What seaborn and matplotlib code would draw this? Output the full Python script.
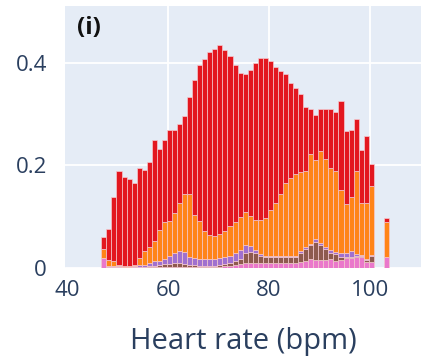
import numpy as np
import pandas as pd
import matplotlib
matplotlib.use("Agg")
import matplotlib.pyplot as plt
import seaborn as sns

# ---- data (bin start, bpm) ----
heart_rate = [47, 48, 49, 50, 51, 52, 53, 54, 55, 56, 57, 58, 59, 60, 61, 62, 63, 64, 65, 66,
              67, 68, 69, 70, 71, 72, 73, 74, 75, 76, 77, 78, 79, 80, 81, 82, 83, 84, 85, 86,
              87, 88, 89, 90, 91, 92, 93, 94, 95, 96, 97, 98, 99, 100, 103]

# cumulative tops
pink_top = [0.020, 0.002, 0.001, 0.001, 0.001, 0.001, 0.001, 0.001, 0.001, 0.001, 0.001, 0.001, 0.001, 0.001, 0.002, 0.002, 0.002, 0.002, 0.002, 0.002,
            0.002, 0.002, 0.002, 0.002, 0.003, 0.004, 0.005, 0.008, 0.010, 0.010, 0.010, 0.009, 0.009, 0.009, 0.009, 0.009, 0.009, 0.009, 0.010, 0.012,
            0.014, 0.017, 0.016, 0.016, 0.015, 0.018, 0.014, 0.015, 0.020, 0.020, 0.022, 0.022, 0.012, 0.012, 0.021]
brown_top = [0.020, 0.002, 0.002, 0.001, 0.001, 0.001, 0.001, 0.002, 0.002, 0.003, 0.004, 0.005, 0.008, 0.008, 0.010, 0.010, 0.008, 0.006, 0.005, 0.004,
             0.004, 0.004, 0.004, 0.005, 0.007, 0.010, 0.013, 0.018, 0.030, 0.032, 0.030, 0.024, 0.022, 0.021, 0.021, 0.022, 0.021, 0.022, 0.022, 0.030,
             0.038, 0.044, 0.050, 0.045, 0.038, 0.030, 0.028, 0.022, 0.022, 0.022, 0.023, 0.023, 0.016, 0.024, 0.021]
purple_top = [0.020, 0.004, 0.004, 0.003, 0.002, 0.002, 0.003, 0.005, 0.006, 0.009, 0.013, 0.014, 0.018, 0.024, 0.030, 0.033, 0.031, 0.022, 0.020, 0.018,
              0.018, 0.018, 0.018, 0.019, 0.021, 0.024, 0.030, 0.036, 0.045, 0.042, 0.035, 0.027, 0.024, 0.023, 0.023, 0.024, 0.023, 0.024, 0.024, 0.033,
              0.041, 0.047, 0.056, 0.048, 0.041, 0.036, 0.032, 0.030, 0.030, 0.034, 0.028, 0.025, 0.018, 0.026, 0.021]
orange_top = [0.038, 0.016, 0.013, 0.005, 0.004, 0.004, 0.006, 0.020, 0.034, 0.041, 0.053, 0.074, 0.090, 0.092, 0.108, 0.126, 0.145, 0.145, 0.103, 0.092,
              0.072, 0.064, 0.063, 0.066, 0.073, 0.082, 0.090, 0.100, 0.109, 0.101, 0.094, 0.093, 0.097, 0.113, 0.126, 0.145, 0.165, 0.175, 0.183, 0.187,
              0.190, 0.222, 0.210, 0.228, 0.212, 0.195, 0.190, 0.153, 0.124, 0.139, 0.190, 0.126, 0.126, 0.159, 0.090]
total_top = [0.060, 0.077, 0.139, 0.189, 0.178, 0.174, 0.165, 0.196, 0.192, 0.207, 0.250, 0.232, 0.250, 0.269, 0.270, 0.281, 0.296, 0.333, 0.366, 0.395,
             0.408, 0.422, 0.428, 0.434, 0.425, 0.413, 0.395, 0.381, 0.379, 0.387, 0.399, 0.410, 0.410, 0.404, 0.393, 0.384, 0.379, 0.361, 0.351, 0.340,
             0.314, 0.311, 0.298, 0.311, 0.311, 0.311, 0.304, 0.325, 0.267, 0.270, 0.290, 0.231, 0.257, 0.202, 0.098]

series_names = ["red", "orange", "purple", "brown", "pink"]
series_colors = ["#E3171F", "#FF8418", "#A070CF", "#8E5A4E", "#EA78CB"]

tops = {"pink": pink_top, "brown": brown_top, "purple": purple_top,
        "orange": orange_top, "red": total_top}
below = {"pink": None, "brown": "pink", "purple": "brown", "orange": "purple", "red": "orange"}

rows = []
for name in series_names:
    t = np.array(tops[name])
    b = np.array(tops[below[name]]) if below[name] else np.zeros_like(t)
    for hr, v in zip(heart_rate, t - b):
        rows.append({"hr": hr + 0.25, "cls": name, "w": max(v, 0.0)})
df = pd.DataFrame(rows)

sns.set_theme(style="white")
plt.rcParams["font.family"] = ["Open Sans", "DejaVu Sans"]

fig = plt.figure(figsize=(4.46, 3.63), dpi=100)
ax = fig.add_axes([65 / 446, (363 - 268) / 363, (421 - 65) / 446, (268 - 6) / 363])
ax.set_facecolor("#E5ECF6")

sns.histplot(data=df, x="hr", weights="w", hue="cls", hue_order=series_names,
             palette=dict(zip(series_names, series_colors)), multiple="stack",
             binwidth=1, binrange=(46.75, 103.75), alpha=1, edgecolor="#f4c9cf",
             linewidth=0.5, legend=False, ax=ax, zorder=3)

ax.set_xlim(39.55, 110.1)
ax.set_ylim(0, 0.511)
ax.set_xticks([40, 60, 80, 100])
ax.set_xticklabels(["40", "60", "80", "100"])
ax.set_yticks([0, 0.2, 0.4])
ax.set_yticklabels(["0", "0.2", "0.4"])
for v in [60, 80, 100]:
    ax.axvline(v, color="white", lw=1.3, zorder=1)
for v in [0.2, 0.4]:
    ax.axhline(v, color="white", lw=1.3, zorder=1)
ax.axhline(0, color="white", lw=2, zorder=1)
for s in ax.spines.values():
    s.set_visible(False)
ax.tick_params(axis="both", length=0, labelsize=16, colors="#2a3f5f")
ax.tick_params(axis="x", pad=9)
ax.tick_params(axis="y", pad=13)
ax.set_ylabel("")
ax.set_xlabel("Heart rate (bpm)", fontsize=21, color="#2a3f5f", labelpad=18)
ax.text(0.033, 0.96, "(i)", transform=ax.transAxes, fontsize=17.5, fontweight="bold",
        color="#111111", va="top", ha="left")

fig.savefig("out.png", dpi=100)
